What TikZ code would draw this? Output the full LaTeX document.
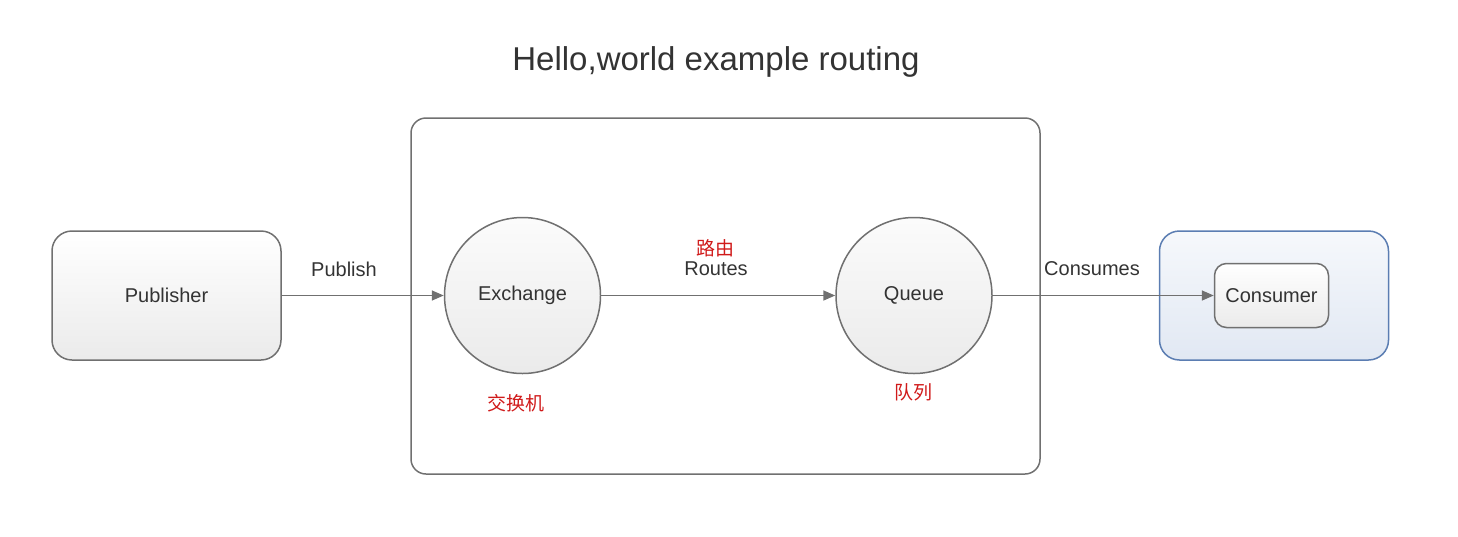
\documentclass[tikz,border=0pt]{standalone}
\usepackage{fontspec}
\setmainfont{Liberation Sans}
\newfontfamily\cjk{Noto Sans CJK SC}
\usepackage{xcolor}
\definecolor{linegray}{HTML}{707070}
\definecolor{textgray}{HTML}{333333}
\definecolor{labelred}{HTML}{D01A1A}
\definecolor{consblue}{HTML}{5B7DB2}
\definecolor{consfill}{HTML}{E1E8F3}
\usetikzlibrary{positioning,arrows.meta}

\begin{document}
\begin{tikzpicture}[
  x=1pt, y=-1pt,
  box/.style={draw=linegray, line width=1.5pt, rounded corners=20pt,
              top color=white, bottom color=gray!16,
              minimum width=229pt, minimum height=129pt,
              font=\fontsize{20}{24}\selectfont, text=textgray},
  frame/.style={draw=linegray, line width=1.5pt, rounded corners=15pt,
                minimum width=629pt, minimum height=356pt},
  disc/.style={circle, draw=linegray, line width=1.5pt,
               top color=gray!3, bottom color=gray!16,
               minimum size=156pt, inner sep=0pt,
               font=\fontsize{20}{24}\selectfont, text=textgray},
  arr/.style={-{Triangle[length=12pt,width=10pt]}, line width=1.6pt, draw=linegray},
  lbl/.style={font=\fontsize{20}{24}\selectfont, text=textgray},
  cn/.style={font=\cjk\fontsize{19}{22}\selectfont, text=labelred}
]
  \useasboundingbox (0,0) rectangle (1458,536);

  \node[font=\fontsize{33}{40}\selectfont, text=textgray] (title) at (716,62) {Hello,world example routing};

  % broker frame
  \node[frame] (broker) at (725.5,296) {};

  \node[box] (pub) at (166.5,295.5) {Publisher};
  \node[disc, right=162pt of pub]  (ex) {Exchange};
  \node[disc, right=234pt of ex]   (q)  {Queue};
  \node[box, draw=consblue, top color=consfill!30, bottom color=consfill,
        right=166pt of q.east, anchor=west] (cbox) {};
  \node[box, rounded corners=12pt, minimum width=114pt, minimum height=64pt,
        right=221pt of q.east, anchor=west] (cons) {Consumer};

  \draw[arr] (pub) -- (ex);
  \draw[arr] (ex)  -- (q);
  \draw[arr] (q)   -- (cons);

  \node[lbl] (publish)  at (344,269)  {Publish};
  \node[cn]  (routecn)  at (715,248)  {路由};
  \node[lbl] (routes)   at (716,269)  {Routes};
  \node[lbl] (consumes) at (1092,269) {Consumes};
  \node[cn]  (excn)     at (516,403)  {交换机};
  \node[cn]  (qcn)      at (913,392)  {队列};
\end{tikzpicture}
\end{document}
